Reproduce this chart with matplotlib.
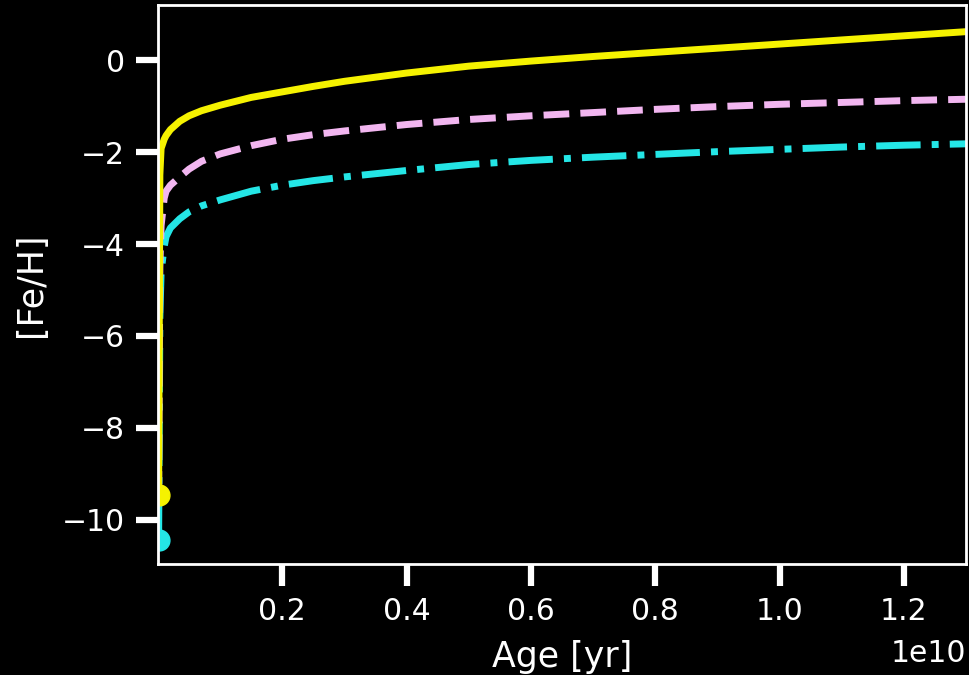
import matplotlib
matplotlib.use('Agg')
import matplotlib.pyplot as plt
import matplotlib.transforms as mtransforms
import numpy as np

# age grid in Gyr, converted to yr when plotting
age_gyr = [0.01, 0.03, 0.05, 0.1, 0.13, 0.2, 0.35, 0.5, 0.7, 1.0, 1.5, 2.0, 2.5,
           3.0, 4.0, 5.0, 6.0, 7.0, 8.0, 9.0, 10.0, 11.0, 12.0, 13.0]

# [Fe/H] tracks
feh_solid = [-9.46, -2.5, -1.92, -1.72, -1.64, -1.51, -1.33, -1.21, -1.10, -0.98, -0.81,
             -0.69, -0.57, -0.46, -0.28, -0.13, -0.02, 0.08, 0.17, 0.26, 0.35, 0.44, 0.53, 0.62]
feh_dashed = [-9.5, -4.5, -3.6, -3.0, -2.85, -2.72, -2.54, -2.37, -2.20, -2.04, -1.86,
              -1.72, -1.62, -1.54, -1.40, -1.29, -1.21, -1.14, -1.07, -1.01, -0.96, -0.92, -0.88, -0.85]
feh_dashdot = [-10.43, -5.6, -4.6, -4.05, -3.84, -3.65, -3.45, -3.30, -3.17, -3.04, -2.85,
               -2.72, -2.62, -2.54, -2.40, -2.27, -2.18, -2.11, -2.05, -1.99, -1.94, -1.89, -1.85, -1.82]

yellow = '#f5f200'
pink = '#f2b6f0'
cyan = '#24e6e6'

age = np.array(age_gyr) * 1e9

fig = plt.figure(figsize=(9.69, 6.75), dpi=100, facecolor='black')
ax = fig.add_axes([158 / 969, 111 / 675, 808 / 969, 559 / 675])
ax.set_facecolor('black')

# dash-dot and dashed first, solid on top
ax.plot(age, feh_dashdot, color=cyan, lw=5, ls='-.')
ax.plot(age[0], feh_dashdot[0], 'o', color=cyan, ms=15)
ax.plot(age, feh_dashed, color=pink, lw=5, ls='--')
ax.plot(age, feh_solid, color=yellow, lw=5, ls='-')
ax.plot(age[0], feh_solid[0], 'o', color=yellow, ms=15)

ax.set_xlim(0, 1.3e10)
ax.set_ylim(-10.96, 1.2)
ax.set_yticks([0, -2, -4, -6, -8, -10])
ax.set_xticks([0.2e10, 0.4e10, 0.6e10, 0.8e10, 1.0e10, 1.2e10])

for side in ax.spines.values():
    side.set_color('white')
    side.set_linewidth(2)
ax.tick_params(colors='white', labelsize=21.5, length=16, width=4.5, pad=8)

# scale factor text, nudged down a little
off = ax.xaxis.get_offset_text()
off.set_fontsize(21.5)
off.set_color('white')
off.set_transform(off.get_transform() + mtransforms.ScaledTranslation(0, -6 / 72, fig.dpi_scale_trans))

ax.set_xlabel('Age [yr]', fontsize=25, color='white', labelpad=10)
ax.set_ylabel('[Fe/H]', fontsize=25, color='white', labelpad=10)

fig.savefig('out.png', dpi=100, facecolor='black')
